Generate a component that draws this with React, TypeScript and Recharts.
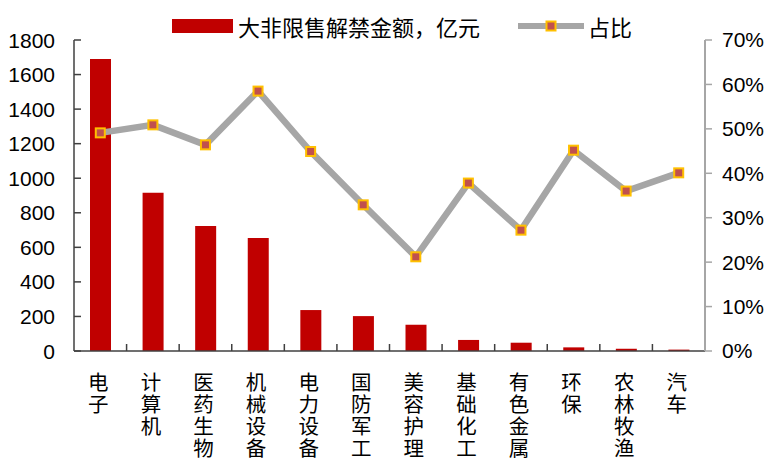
import React from "react";
import { ComposedChart, Bar, Line, XAxis, YAxis } from "recharts";

const categories = ["电子", "计算机", "医药生物", "机械设备", "电力设备", "国防军工", "美容护理", "基础化工", "有色金属", "环保", "农林牧渔", "汽车"];
const amounts = [1690, 916, 723, 654, 237, 202, 152, 64, 48, 21, 13, 8];
const shares = [49.1, 50.9, 46.4, 58.5, 44.9, 32.9, 21.2, 37.8, 27.2, 45.2, 36.0, 40.1];
const leftTicks = [0, 200, 400, 600, 800, 1000, 1200, 1400, 1600, 1800];
const rightTicks = [0, 10, 20, 30, 40, 50, 60, 70];
const barLabel = "大非限售解禁金额，亿元";
const lineLabel = "占比";

const data = categories.map((c, i) => ({ name: c, amount: amounts[i], share: shares[i] }));

const NUM_FONT = "'Liberation Sans', Arial, sans-serif";
const CJK_FONT = "'Noto Sans CJK SC', sans-serif";
const BAR_COLOR = "#C00000";
const LINE_COLOR = "#A6A6A6";
const HALF_BAND = 631 / 12 / 2;

const LeftTick = (props: any) => {
  const { x, y, payload } = props;
  return (
    <g>
      <line x1={x} x2={x + 7} y1={y} y2={y} stroke="#404040" strokeWidth={1.5} />
      <text x={x - 19} y={y} dy="0.36em" textAnchor="end" fontSize={21} fontFamily={NUM_FONT} fill="#000">
        {payload.value}
      </text>
    </g>
  );
};

const XTick = (props: any) => {
  const { x, y, payload, index } = props;
  const chars = String(payload.value).split("");
  return (
    <g>
      {index < categories.length - 1 && (
        <line x1={x + HALF_BAND} x2={x + HALF_BAND} y1={y} y2={y - 7} stroke="#404040" strokeWidth={1.5} />
      )}
      {chars.map((ch, i) => (
        <text
          key={i}
          x={x - 2}
          y={y + 39 + i * 22}
          textAnchor="middle"
          fontSize={20.5}
          fontFamily={CJK_FONT}
          fill="#000"
        >
          {ch}
        </text>
      ))}
    </g>
  );
};

const SquareDot = (props: any) => {
  const { cx, cy } = props;
  if (cx == null || cy == null) return null;
  return <rect x={cx - 4.5} y={cy - 4.5} width={9} height={9} fill="#C0504D" stroke="#FFC000" strokeWidth={2} />;
};

export default function App() {
  return (
    <div style={{ position: "relative", width: 782, height: 467, margin: -8, background: "#fff" }}>
      <ComposedChart
        width={782}
        height={467}
        data={data}
        margin={{ top: 40, right: 0, left: 0, bottom: 0 }}
      >
        <XAxis
          dataKey="name"
          height={116}
          interval={0}
          tickSize={0}
          tickMargin={0}
          tickLine={false}
          axisLine={{ stroke: "#404040", strokeWidth: 1.5 }}
          tick={<XTick />}
        />
        <YAxis
          yAxisId="left"
          width={74}
          domain={[0, 1800]}
          ticks={leftTicks}
          tickSize={0}
          tickMargin={0}
          tickLine={false}
          axisLine={{ stroke: "#404040", strokeWidth: 1.5 }}
          tick={<LeftTick />}
          interval={0}
        />
        <YAxis
          yAxisId="right"
          orientation="right"
          width={77}
          domain={[0, 70]}
          ticks={rightTicks}
          tickSize={7}
          tickMargin={10}
          tickLine={{ stroke: "#A6A6A6", strokeWidth: 1.5 }}
          axisLine={{ stroke: "#A6A6A6", strokeWidth: 2 }}
          tick={{ fontSize: 21, fontFamily: NUM_FONT, fill: "#000" }}
          tickFormatter={(v: number) => `${v}%`}
          interval={0}
        />
        <Bar yAxisId="left" dataKey="amount" fill={BAR_COLOR} barSize={21} isAnimationActive={false} />
        <Line
          yAxisId="right"
          dataKey="share"
          stroke={LINE_COLOR}
          strokeWidth={6.5}
          dot={<SquareDot />}
          activeDot={false}
          isAnimationActive={false}
        />
      </ComposedChart>
      <div
        style={{
          position: "absolute",
          top: 14,
          left: 172,
          display: "flex",
          alignItems: "center",
          fontFamily: CJK_FONT,
          fontSize: 22,
          color: "#000",
          lineHeight: "24px",
        }}
      >
        <span style={{ display: "inline-block", width: 61, height: 14, background: BAR_COLOR, marginRight: 5 }} />
        <span>{barLabel}</span>
        <svg width={66} height={24} style={{ marginLeft: 38, marginRight: 4 }}>
          <line x1={0} x2={66} y1={12} y2={12} stroke={LINE_COLOR} strokeWidth={6} strokeLinecap="round" />
          <rect x={28.5} y={7.5} width={9} height={9} fill="#C0504D" stroke="#FFC000" strokeWidth={2} />
        </svg>
        <span>{lineLabel}</span>
      </div>
    </div>
  );
}
